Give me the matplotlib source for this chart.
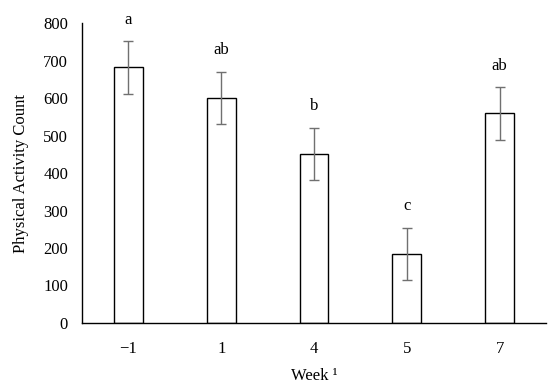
import matplotlib
matplotlib.use("Agg")
import matplotlib.pyplot as plt
import numpy as np

weeks = ["\u22121", "1", "4", "5", "7"]
means = [682, 600, 451, 184, 559]
errors = [70, 70, 70, 70, 70]
letters = ["a", "ab", "b", "c", "ab"]

plt.rcParams['font.family'] = ['Liberation Serif', 'DejaVu Serif']

fig = plt.figure(figsize=(5.5, 3.91), dpi=100)
ax = fig.add_axes([0.149, 0.174, 0.844, 0.767])

x = np.arange(len(weeks))
ax.bar(x, means, width=0.31, color='white', edgecolor='black', linewidth=1.0, zorder=2)
ax.errorbar(x, means, yerr=errors, fmt='none', ecolor='#707070', elinewidth=1.0,
            capsize=3.5, capthick=1.0, zorder=3)
for xi, m, e, l in zip(x, means, errors, letters):
    ax.text(xi, m + e + 57, l, ha='center', va='center', fontsize=12)

ax.set_xlim(-0.5, len(weeks) - 0.5)
ax.set_ylim(0, 800)
ax.set_yticks(range(0, 801, 100))
ax.set_xticks(x)
ax.set_xticklabels(weeks)
ax.tick_params(axis='both', length=0, labelsize=12)
ax.tick_params(axis='x', pad=13)
ax.tick_params(axis='y', pad=10)
for s in ['top', 'right']:
    ax.spines[s].set_visible(False)
for s in ['left', 'bottom']:
    ax.spines[s].set_linewidth(1.0)
    ax.spines[s].set_color('black')
ax.set_ylabel("Physical Activity Count", fontsize=12, labelpad=10)
ax.set_xlabel("Week \u00b9", fontsize=12, labelpad=8)

fig.savefig("out.png", dpi=100)
